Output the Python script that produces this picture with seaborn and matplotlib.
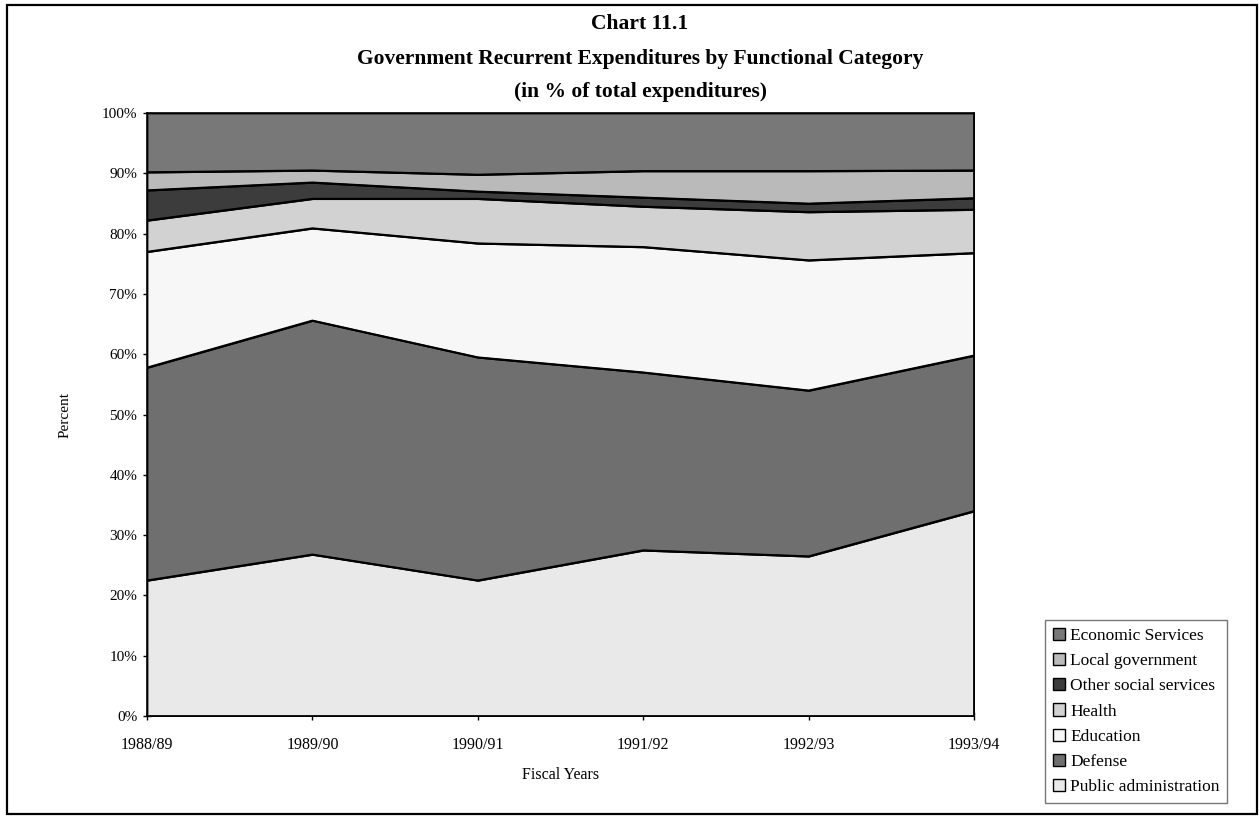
import matplotlib
matplotlib.use("Agg")
import matplotlib.pyplot as plt
from matplotlib.patches import Patch, Rectangle
from matplotlib.ticker import PercentFormatter
import numpy as np
import pandas as pd
import seaborn as sns

years = ["1988/89", "1989/90", "1990/91", "1991/92", "1992/93", "1993/94"]

# Shares of total recurrent expenditure (%), stacked bottom to top
public_admin = [22.5, 26.8, 22.5, 27.5, 26.5, 34.0]
defense = [35.3, 38.8, 37.0, 29.5, 27.5, 25.8]
education = [19.2, 15.3, 18.9, 20.8, 21.6, 17.0]
health = [5.2, 4.9, 7.4, 6.7, 8.0, 7.2]
other_social = [5.0, 2.7, 1.2, 1.5, 1.4, 1.9]
local_gov = [3.0, 2.0, 2.8, 4.4, 5.4, 4.6]
economic = [9.8, 9.5, 10.2, 9.6, 9.6, 9.5]

categories = ["Public administration", "Defense", "Education", "Health",
              "Other social services", "Local government", "Economic Services"]
colors = ["#e9e9e9", "#6f6f6f", "#f7f7f7", "#d2d2d2", "#3c3c3c", "#bababa", "#787878"]

df = pd.DataFrame({
    "Public administration": public_admin,
    "Defense": defense,
    "Education": education,
    "Health": health,
    "Other social services": other_social,
    "Local government": local_gov,
    "Economic Services": economic,
}, index=years)

sns.set_theme(style="white")
plt.rcParams["font.family"] = ["Liberation Serif", "DejaVu Serif"]
plt.rcParams.update({"text.color": "black", "axes.labelcolor": "black",
                     "xtick.color": "black", "ytick.color": "black"})

fig = plt.figure(figsize=(12.6, 8.19), dpi=100)
ax = fig.add_axes([147 / 1260, 1 - 716 / 819, (974 - 147) / 1260, (716 - 113) / 819])

x = np.arange(len(years))
ax.stackplot(x, *[df[c].values for c in categories], colors=colors,
             edgecolor="black", linewidth=1.3)

# boundary lines between the stacked bands
cum = df[categories].cumsum(axis=1)
long = cum.reset_index(drop=True).assign(x=x).melt(id_vars="x", var_name="band", value_name="top")
sns.lineplot(data=long, x="x", y="top", units="band", estimator=None,
             color="black", linewidth=1.2, ax=ax, legend=False)

ax.set_xlim(0, len(years) - 1)
ax.set_ylim(0, 100)
ax.set_xticks(x)
ax.set_xticklabels(years, fontsize=11.5)
ax.set_yticks(np.arange(0, 101, 10))
ax.yaxis.set_major_formatter(PercentFormatter(decimals=0))
ax.tick_params(axis="y", labelsize=11, direction="inout", length=6, width=1, left=True, pad=4)
ax.tick_params(axis="x", direction="inout", length=6, width=1, bottom=True, pad=12)
for s in ax.spines.values():
    s.set_color("black")
    s.set_linewidth(1.2)

ax.set_xlabel("Fiscal Years", fontsize=11.5, labelpad=10)
ax.set_ylabel("Percent", fontsize=11, labelpad=22)

tx = 640 / 1260
fig.text(tx, 1 - 24 / 819, "Chart 11.1", ha="center", va="center",
         fontsize=15.5, fontweight="bold")
fig.text(tx, 1 - 59 / 819, "Government Recurrent Expenditures by Functional Category",
         ha="center", va="center", fontsize=15.5, fontweight="bold")
fig.text(tx, 1 - 92 / 819, "(in % of total expenditures)", ha="center", va="center",
         fontsize=15.5, fontweight="bold")

handles = [Patch(facecolor=colors[i], edgecolor="black", linewidth=1.0, label=categories[i])
           for i in range(len(categories) - 1, -1, -1)]
leg = fig.legend(handles=handles, loc="upper left",
                 bbox_to_anchor=(1045 / 1260, 1 - 620 / 819),
                 fontsize=12.5, frameon=True, fancybox=False, handlelength=0.7,
                 handleheight=0.7, handletextpad=0.3, labelspacing=0.52,
                 borderpad=0.45, borderaxespad=0)
leg.get_frame().set_edgecolor("#555555")
leg.get_frame().set_linewidth(1.0)

# outer frame around the whole chart
fig.patches.append(Rectangle((7 / 1260, 5 / 819), 1250 / 1260, 809 / 819,
                             transform=fig.transFigure, fill=False,
                             edgecolor="black", linewidth=1.6))

fig.savefig("out.png", dpi=100, facecolor="white")
